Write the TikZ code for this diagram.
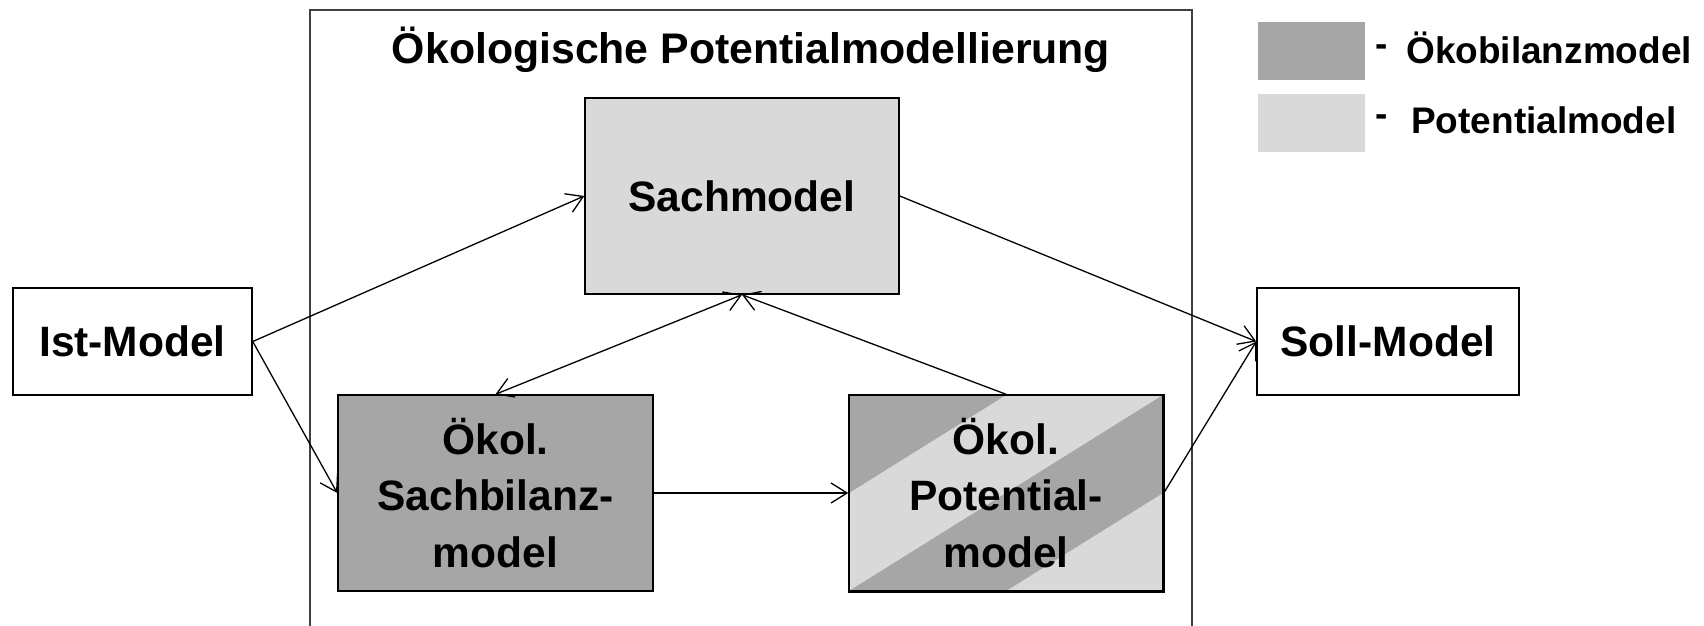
\documentclass[tikz,border=0pt]{standalone}
\usepackage{fontspec}
\setmainfont{Liberation Sans}
\usetikzlibrary{arrows.meta}
\definecolor{darkg}{HTML}{A6A6A6}
\definecolor{lightg}{HTML}{D9D9D9}
\definecolor{framec}{HTML}{404040}
\begin{document}
\begin{tikzpicture}[x=1pt,y=-1pt,
  box/.style={draw=black, line width=1.5pt, inner sep=0pt, align=center,
    font=\fontsize{42.5}{56.5}\selectfont\bfseries},
  conn/.style={line width=1.3pt, -{Straight Barb[length=16pt,width=20pt,line width=1.3pt]}},
  dconn/.style={line width=1.3pt, {Straight Barb[length=16pt,width=20pt,line width=1.3pt]}-{Straight Barb[length=16pt,width=20pt,line width=1.3pt]}},
  legbox/.style={inner sep=0pt, minimum width=107pt, minimum height=58pt},
  legtext/.style={font=\fontsize{37}{40}\selectfont\bfseries, inner sep=0pt},
]
\useasboundingbox (0,0) rectangle (1704,625);
\clip (0,0) rectangle (1704,625);
\fill[white] (0,0) rectangle (1704,625);

% frame
\draw[framec, line width=2pt] (310,10) rectangle (1192,680);
\node[font=\fontsize{42.8}{50}\selectfont\bfseries, anchor=base, inner sep=0pt] (title) at (751,63) {Ökologische Potentialmodellierung};

% boxes
\node[box, minimum width=239pt, minimum height=107pt, fill=white] (ist) at (132.5,341.5) {Ist-Model};
\node[box, minimum width=262pt, minimum height=107pt, fill=white] (soll) at (1388,341.5) {Soll-Model};
\node[box, minimum width=314pt, minimum height=196pt, fill=lightg] (sach) at (742,196) {Sachmodel};
\node[box, minimum width=315pt, minimum height=196pt, fill=darkg] (sachb) at (495.5,493) {Ökol.\\Sachbilanz-\\model};
\node[box, minimum width=314pt, minimum height=196pt, fill=lightg,
  path picture={
    \fill[darkg] (path picture bounding box.north west) -- (path picture bounding box.north) -- (path picture bounding box.west) -- cycle;
    \fill[darkg] (path picture bounding box.north east) -- (path picture bounding box.east) -- (path picture bounding box.south) -- (path picture bounding box.south west) -- cycle;
  }] (pot) at (1006,493) {Ökol.\\Potential-\\model};
\draw[black, line width=1.5pt] (pot.north west) rectangle (pot.south east);

% connectors
\draw[conn] (ist.east) -- (sach.west);
\draw[conn] (ist.east) -- (sachb.west);
\draw[dconn] (sachb.north) -- (sach.south);
\draw[conn] (pot.north) -- (sach.south);
\draw[conn] (sach.east) -- (soll.west);
\draw[conn] (pot.east) -- (soll.west);
\draw[conn] (sachb.east) -- (pot.west);

% legend
\node[legbox, fill=darkg] (leg1) at (1311.5,51) {};
\node[legbox, fill=lightg] (leg2) at (1311.5,123) {};
\node[legtext, anchor=base] (dash1) at (1382,56) {-};
\node[legtext, anchor=base] (dash2) at (1382,126) {-};
\node[legtext, anchor=base west] (lt1) at (1406,63) {Ökobilanzmodel};
\node[legtext, anchor=base west] (lt2) at (1411,133) {Potentialmodel};
\end{tikzpicture}
\end{document}
